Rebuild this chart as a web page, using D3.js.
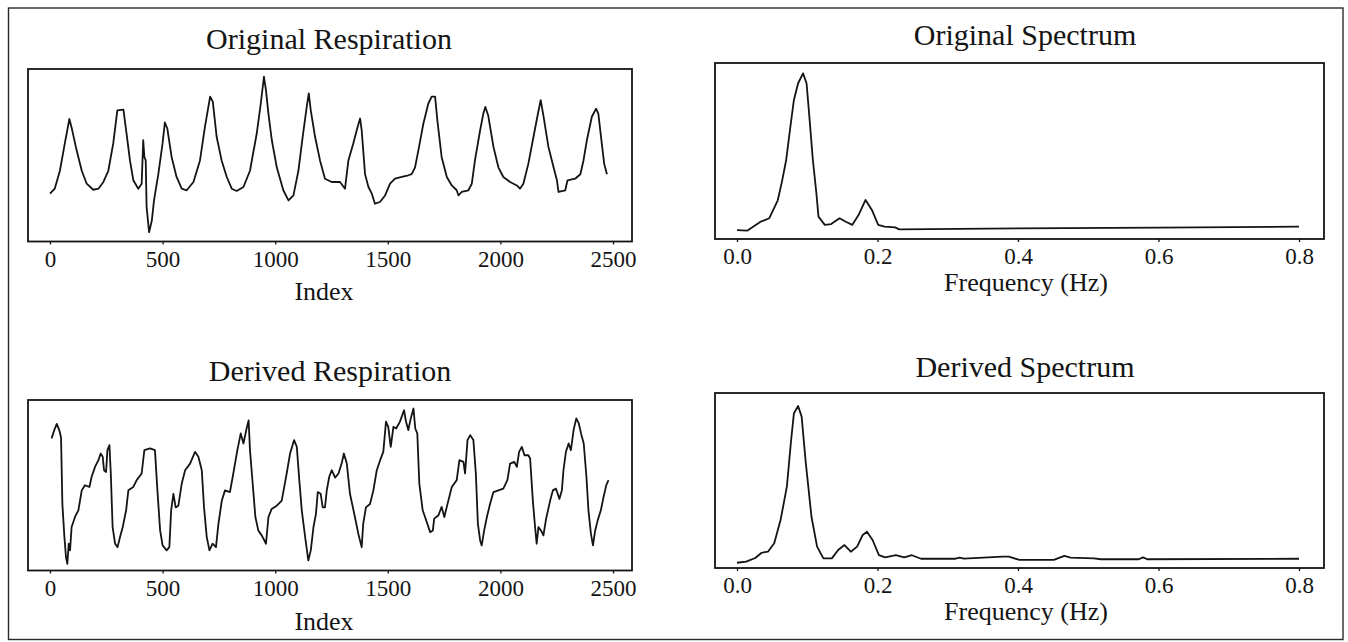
<!DOCTYPE html>
<html>
<head>
<meta charset="utf-8">
<script src="https://cdn.jsdelivr.net/npm/d3@7"></script>
<style>
  html, body { margin: 0; padding: 0; background: #fff; }
  svg { display: block; }
  text { font-family: "Liberation Serif", "Times New Roman", serif; fill: #141414; }
</style>
</head>
<body>
<svg id="chart" width="1348" height="642"></svg>
<script>
// ---- Original respiration signal (sample index, amplitude in % of full scale) ----
const origRespIndex = [0, 21, 44, 66, 86, 96, 118, 141, 163, 192, 215, 237, 259, 281, 299, 326, 340, 355, 370, 392,
  407, 414, 419, 425, 429, 440, 452, 462, 481, 500, 510, 521, 540, 562, 585, 607, 637, 666, 688, 711,
  723, 740, 762, 785, 807, 829, 859, 888, 918, 936, 950, 959, 970, 985, 1007, 1036, 1059, 1081, 1103, 1122,
  1140, 1149, 1158, 1177, 1199, 1221, 1251, 1288, 1310, 1325, 1347, 1365, 1377, 1384, 1399, 1414, 1429, 1443, 1465, 1488,
  1510, 1532, 1562, 1591, 1606, 1621, 1636, 1658, 1680, 1695, 1710, 1720, 1739, 1762, 1784, 1806, 1814, 1828, 1858, 1873,
  1887, 1910, 1924, 1933, 1946, 1969, 1991, 2013, 2043, 2073, 2087, 2102, 2124, 2147, 2164, 2179, 2191, 2213, 2236, 2251,
  2258, 2288, 2298, 2332, 2355, 2369, 2384, 2406, 2425, 2435, 2450, 2461, 2473];
const origRespValue = [27.7, 30.6, 41, 57, 71, 66, 53, 41, 33.5, 30, 30.6, 34.5, 41, 57, 76, 76.5, 62.6, 47, 35.5, 30.6,
  33.5, 58.7, 49, 47, 20, 5.4, 12, 24, 39, 57, 69, 65.5, 49, 37.4, 30.6, 29.7, 34.5, 47, 66.5, 84,
  81, 60.7, 47, 37.4, 30.6, 29.3, 31.6, 41, 62.6, 80, 95.5, 87.8, 74, 58.7, 43, 29.7, 23.8, 26.7, 41, 60.7,
  78, 85.9, 76, 60.7, 47, 36.4, 34.5, 34.5, 30.6, 47, 57, 66, 71.3, 64.5, 39, 31.6, 27.7, 21.9, 22.9, 26.7,
  33.5, 36.4, 37.4, 38.4, 39, 43, 53, 68.4, 80, 84, 84, 70.3, 49, 37.4, 32.5, 29.7, 26.7, 28.7, 29.7, 33.5,
  47, 64.5, 74, 78, 73, 55, 43, 37.4, 34.5, 32.5, 30.6, 33.5, 45, 60.7, 72.3, 82, 73, 55, 43, 35.5,
  28.7, 29.7, 35.5, 36.4, 39, 47, 58.7, 72.3, 77, 74, 57, 45, 39];

// ---- ECG-derived respiration signal ----
const derivRespIndex = [7, 18, 30, 42, 49, 55, 64, 71, 77, 83, 89, 96, 111, 126, 141, 155, 175, 185, 200, 215,
  225, 234, 240, 249, 255, 264, 270, 278, 289, 300, 311, 323, 338, 348, 370, 385, 407, 419, 444, 466,
  477, 489, 500, 518, 530, 538, 548, 558, 570, 585, 600, 622, 644, 659, 674, 684, 696, 708, 722, 737,
  748, 763, 777, 799, 814, 832, 847, 859, 873, 882, 888, 900, 912, 925, 940, 952, 959, 970, 984, 1007,
  1029, 1051, 1066, 1084, 1096, 1107, 1118, 1133, 1147, 1158, 1170, 1181, 1189, 1202, 1211, 1221, 1229, 1240, 1251, 1266,
  1281, 1295, 1305, 1318, 1332, 1354, 1369, 1384, 1391, 1403, 1421, 1436, 1451, 1466, 1480, 1492, 1502, 1513, 1525, 1537,
  1554, 1572, 1581, 1591, 1602, 1614, 1622, 1631, 1640, 1655, 1673, 1688, 1700, 1706, 1725, 1739, 1751, 1762, 1784, 1806,
  1818, 1836, 1843, 1854, 1866, 1880, 1891, 1900, 1910, 1917, 1928, 1940, 1954, 1969, 1991, 2013, 2031, 2043, 2062, 2073,
  2083, 2095, 2107, 2124, 2132, 2144, 2154, 2161, 2169, 2180, 2191, 2203, 2221, 2233, 2247, 2262, 2273, 2280, 2291, 2303,
  2313, 2325, 2337, 2348, 2358, 2370, 2382, 2391, 2402, 2411, 2421, 2432, 2446, 2458, 2470, 2480];
const derivRespValue = [77.5, 82, 86, 82, 78, 39, 19.6, 7.8, 3.9, 15.7, 11.8, 25.5, 31.4, 35.3, 47, 50, 49, 55, 60.8, 64.7,
  68.6, 66.7, 58.8, 57.8, 70.6, 73.5, 56.9, 25.5, 15.7, 13.7, 19.6, 25.5, 35.3, 47, 49, 53, 56.9, 70.6, 71.6, 70.6,
  47, 23.5, 14.7, 11.8, 13.7, 35.3, 45, 37, 38, 51, 58.8, 62.7, 69.6, 66.7, 58.8, 37, 19.6, 11.8, 15.7, 13.7,
  27.5, 41, 47, 46, 56.9, 70.6, 80.4, 74.5, 83.3, 88, 70.6, 51, 31.4, 23.5, 20.6, 17.6, 15.7, 31.4, 36, 38,
  41, 56.9, 68.6, 76.5, 72.5, 53, 35.3, 19.6, 5.9, 11.8, 25.5, 33.3, 46, 45, 37, 37, 47, 55, 58.8, 54.5,
  56.9, 62.7, 68.6, 62.7, 45, 31.4, 21.6, 13.7, 27.5, 37, 39, 47, 58.8, 64.7, 69.6, 87.3, 84.3, 72.5, 84.3, 83.3,
  87.3, 94, 87.3, 82.4, 89.2, 95, 83.3, 80.4, 51, 35.3, 28.4, 22.5, 23.5, 30.4, 32.4, 37.3, 31.4, 37.3, 49, 53,
  64.7, 63.7, 56.9, 76.5, 79.4, 76.5, 56.9, 27.5, 17.6, 14.7, 23.5, 31.4, 39, 46, 47, 48, 53, 62.7, 63.7, 60.8,
  69.6, 72.5, 67.6, 67.6, 65.7, 41, 25.5, 15.7, 25.5, 23.5, 20.6, 30.4, 41, 47, 48, 42, 47, 58.8, 69.6, 74.5,
  70.6, 82.4, 89.2, 86.3, 80.4, 74.5, 55, 35.3, 21.6, 14.7, 23.5, 29.4, 35.3, 43, 50, 53];

// ---- Power spectrum of the original respiration (frequency in Hz, relative power) ----
const origSpecFreq = [0, 0.015, 0.033, 0.046, 0.058, 0.064, 0.07, 0.076, 0.081, 0.087, 0.094, 0.099, 0.103, 0.108, 0.113,
  0.116, 0.125, 0.134, 0.146, 0.155, 0.164, 0.173, 0.183, 0.192, 0.201, 0.21, 0.225, 0.231, 0.4, 0.6, 0.8];
const origSpecPower = [5.1, 4.8, 9.7, 11.8, 22, 32.6, 44.9, 63.8, 79, 88.5, 94.1, 88.5, 69.5, 44.9, 26,
  12.7, 8, 8.5, 11.8, 9.8, 8, 13.6, 22.2, 16.5, 8, 7, 6.6, 5.5, 6, 6.5, 7];

// ---- Power spectrum of the derived respiration ----
const derivSpecFreq = [0, 0.013, 0.026, 0.035, 0.044, 0.053, 0.062, 0.071, 0.077, 0.081, 0.087, 0.092, 0.098, 0.106, 0.114,
  0.123, 0.135, 0.144, 0.153, 0.162, 0.171, 0.179, 0.185, 0.193, 0.202, 0.211, 0.226, 0.238, 0.249, 0.262,
  0.311, 0.317, 0.323, 0.378, 0.387, 0.402, 0.451, 0.466, 0.475, 0.508, 0.518, 0.572, 0.578, 0.584, 0.8];
const derivSpecPower = [3, 3.6, 5.7, 8.7, 9.3, 14.1, 27.4, 46.5, 73, 88.4, 92.6, 86.5, 59.8, 29.3, 12.2,
  5.5, 5.5, 10.3, 13.1, 9.3, 12.2, 18.9, 20.7, 16, 7.4, 6.1, 7.3, 6.1, 7.3, 5.3,
  5.3, 5.9, 5.3, 6.5, 6.5, 4.6, 4.6, 6.9, 5.9, 5.5, 5, 5, 6.1, 5, 5.3];

// ---- Axis ticks and labels ----
const indexTicks = [0, 500, 1000, 1500, 2000, 2500];
const freqTicks = [0.0, 0.2, 0.4, 0.6, 0.8];
const panelTitles = ["Original Respiration", "Original Spectrum", "Derived Respiration", "Derived Spectrum"];
const axisTitles = ["Index", "Frequency (Hz)"];

const svg = d3.select("#chart");
const ink = "#141414";

// outer frame around the four panels
svg.append("rect")
  .attr("x", 8.5).attr("y", 8).attr("width", 1334.5).attr("height", 631.5)
  .attr("fill", "none").attr("stroke", "#2a2a2a").attr("stroke-width", 1.4);

const panels = [
  { title: panelTitles[0], xs: origRespIndex, ys: origRespValue, ticks: indexTicks, fmt: d3.format("d"),
    axisTitle: axisTitles[0], box: [28, 69, 632, 241.5], xRange: [50, 613], xDomain: [0, 2500],
    titleY: 49, titleX: 329, tickDy: 25, labelDy: 58, labelX: 324 },
  { title: panelTitles[1], xs: origSpecFreq, ys: origSpecPower, ticks: freqTicks, fmt: d3.format(".1f"),
    axisTitle: axisTitles[1], box: [715, 63, 1324, 239], xRange: [737, 1299], xDomain: [0, 0.8],
    titleY: 45, titleX: 1025, tickDy: 24.5, labelDy: 52, labelX: 1026 },
  { title: panelTitles[2], xs: derivRespIndex, ys: derivRespValue, ticks: indexTicks, fmt: d3.format("d"),
    axisTitle: axisTitles[0], box: [28, 400, 632, 570.5], xRange: [50, 613], xDomain: [0, 2500],
    titleY: 381, titleX: 330, tickDy: 25.5, labelDy: 59, labelX: 324 },
  { title: panelTitles[3], xs: derivSpecFreq, ys: derivSpecPower, ticks: freqTicks, fmt: d3.format(".1f"),
    axisTitle: axisTitles[1], box: [715, 393, 1324, 568], xRange: [737, 1299], xDomain: [0, 0.8],
    titleY: 376.5, titleX: 1025, tickDy: 25, labelDy: 52, labelX: 1026 }
];

panels.forEach(p => {
  const [x0, y0, x1, y1] = p.box;
  const g = svg.append("g");
  const x = d3.scaleLinear().domain(p.xDomain).range(p.xRange);
  const y = d3.scaleLinear().domain([0, 100]).range([y1, y0]);

  // plot frame
  g.append("rect")
    .attr("x", x0).attr("y", y0).attr("width", x1 - x0).attr("height", y1 - y0)
    .attr("fill", "none").attr("stroke", ink).attr("stroke-width", 1.8);

  // bottom axis: short ticks and numeric labels
  const axis = d3.axisBottom(x).tickValues(p.ticks).tickFormat(p.fmt).tickSize(3).tickSizeOuter(0);
  const ag = g.append("g").attr("transform", `translate(0,${y1})`).call(axis);
  ag.select(".domain").remove();
  ag.selectAll(".tick line").attr("stroke", ink).attr("stroke-width", 1.3);
  ag.selectAll(".tick text")
    .attr("y", p.tickDy).attr("dy", null)
    .attr("font-size", 23).attr("font-family", "Liberation Serif, Times New Roman, serif")
    .attr("fill", ink);

  // signal trace
  const line = d3.line().x((d, i) => x(p.xs[i])).y((d, i) => y(p.ys[i]));
  g.append("path")
    .attr("d", line(p.ys))
    .attr("fill", "none").attr("stroke", ink).attr("stroke-width", 1.8)
    .attr("stroke-linejoin", "round");

  // panel title
  g.append("text")
    .attr("x", p.titleX).attr("y", p.titleY)
    .attr("text-anchor", "middle").attr("font-size", 30)
    .text(p.title);

  // axis title
  g.append("text")
    .attr("x", p.labelX).attr("y", y1 + p.labelDy)
    .attr("text-anchor", "middle").attr("font-size", 26)
    .text(p.axisTitle);
});
</script>
</body>
</html>
